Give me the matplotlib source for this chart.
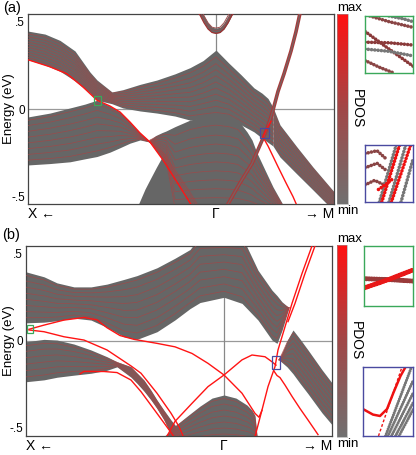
import numpy as np
import matplotlib
matplotlib.use("Agg")
import matplotlib.pyplot as plt
from matplotlib.colors import LinearSegmentedColormap, Normalize
from matplotlib.cm import ScalarMappable
from matplotlib.patches import Rectangle

plt.rcParams['font.family'] = ['Liberation Sans', 'DejaVu Sans']

GRAY = '#666666'
SUB = '#a84444'
RED = '#ff1414'
GREEN = '#3aa85a'
BLUE = '#4a4aa0'

# ======================= Panel (a) =======================
A_XLIM = (-1.88, 1.18)
A_YLIM = (-0.54, 0.54)
A_KLABELS = ['X \u2190', '\u0393', '\u2192 M']

# upper mixed band (X-side ribbon + valence top)
a_up_k = [-1.88, -1.71, -1.56, -1.41, -1.26, -1.19, -1.04, -0.93, -0.76, -0.59, -0.41, -0.26, -0.13, 0.00, 0.13, 0.25, 0.38, 0.46, 0.52, 0.57]
a_up_top = [0.443, 0.426, 0.39, 0.33, 0.21, 0.165, 0.097, 0.11, 0.14, 0.165, 0.20, 0.235, 0.275, 0.335, 0.26, 0.195, 0.12, 0.09, 0.06, 0.01]
a_up_bot = [0.28, 0.25, 0.215, 0.16, 0.09, 0.05, 0.03, 0.006, -0.011, -0.023, -0.04, -0.063, -0.055, -0.05, -0.055, -0.09, -0.13, -0.165, -0.19, -0.21]

# ribbon towards M
a_rib_k = [0.57, 0.64, 0.81, 0.97, 1.18]
a_rib_top = [0.01, -0.09, -0.216, -0.33, -0.47]
a_rib_bot = [-0.21, -0.273, -0.37, -0.46, -0.58]

# lower band on X side
a_bl_k = [-1.88, -1.66, -1.46, -1.31, -1.19, -1.06, -0.96, -0.86, -0.76, -0.66]
a_bl_top = [-0.045, -0.023, 0.006, 0.028, 0.05, 0.017, -0.017, -0.074, -0.136, -0.188]
a_bl_bot = [-0.318, -0.31, -0.30, -0.283, -0.27, -0.245, -0.22, -0.194, -0.176, -0.188]

# descending ribbon continuation
a_ad_k = [-0.66, -0.53, -0.36, -0.26, -0.19]
a_ad_top = [-0.188, -0.24, -0.38, -0.465, -0.53]
a_ad_bot = [-0.188, -0.29, -0.443, -0.534, -0.60]

# lower-left continuum piece
a_l1_k = [-0.79, -0.71, -0.66, -0.60, -0.54, -0.46, -0.36]
a_l1_top = [-0.56, -0.455, -0.40, -0.335, -0.273, -0.20, -0.15]
a_l1_bot = [-0.60, -0.60, -0.60, -0.60, -0.60, -0.60, -0.60]

# lower central band
a_l2_k = [-0.66, -0.60, -0.54, -0.50, -0.41, -0.26, -0.13, 0.00, 0.13, 0.22, 0.31, 0.36, 0.41, 0.49, 0.57, 0.66, 0.69]
a_l2_top = [-0.175, -0.15, -0.134, -0.125, -0.10, -0.063, -0.045, -0.035, -0.045, -0.063, -0.13, -0.176, -0.25, -0.347, -0.443, -0.534, -0.60]
a_l2_bot = [-0.188, -0.23, -0.273, -0.31, -0.60, -0.60, -0.60, -0.60, -0.60, -0.60, -0.60, -0.60, -0.60, -0.60, -0.60, -0.60, -0.60]

# conduction band at Gamma
a_cb_k = [-0.20, -0.16, -0.12, -0.08, -0.04, 0.00, 0.04, 0.08, 0.12, 0.16, 0.20]
a_cb_out = [0.56, 0.534, 0.49, 0.455, 0.435, 0.43, 0.435, 0.455, 0.49, 0.534, 0.56]
a_cb_in = [0.60, 0.58, 0.53, 0.49, 0.465, 0.46, 0.465, 0.49, 0.53, 0.58, 0.60]

# surface states
a_srf_k = [-1.88, -1.66, -1.49, -1.33, -1.19, -1.06, -0.96, -0.86, -0.76, -0.66, -0.53, -0.36, -0.26, -0.19]
a_srf_E = [0.28, 0.24, 0.20, 0.125, 0.05, 0.017, -0.017, -0.074, -0.136, -0.188, -0.29, -0.443, -0.534, -0.60]
a_dir_k = [0.12, 0.24, 0.36, 0.49, 0.54, 0.57, 0.62, 0.68, 0.75, 0.80, 0.84, 0.86]
a_dir_E = [-0.54, -0.42, -0.31, -0.14, -0.063, -0.006, 0.10, 0.20, 0.33, 0.44, 0.545, 0.60]
a_spl_k = [0.55, 0.50, 0.47, 0.52, 0.62, 0.70, 0.77, 0.81]
a_spl_E = [-0.07, -0.12, -0.16, -0.21, -0.328, -0.42, -0.498, -0.55]

A_GREEN_BOX = (-1.22, 0.023, 0.07, 0.051)
A_BLUE_BOX = (0.44, -0.165, 0.09, 0.057)

# ======================= Panel (b) =======================
B_XLIM = (-1.983, 1.083)
B_YLIM = (-0.548, 0.547)

b_ub_k = [-1.983, -1.80, -1.67, -1.50, -1.33, -1.17, -1.00, -0.87, -0.67, -0.49, -0.34, -0.24, 0.00, 0.18, 0.34, 0.48, 0.53, 0.58, 0.65]
b_ub_top = [0.397, 0.368, 0.333, 0.31, 0.31, 0.326, 0.353, 0.375, 0.42, 0.475, 0.525, 0.60, 0.60, 0.60, 0.406, 0.291, 0.26, 0.224, 0.19]
b_ub_bot = [0.103, 0.107, 0.115, 0.13, 0.119, 0.077, 0.023, 0.008, 0.052, 0.12, 0.185, 0.22, 0.25, 0.215, 0.119, 0.004, -0.015, 0.06, 0.19]

b_vb_k = [-1.983, -1.80, -1.67, -1.50, -1.33, -1.17, -1.07, -1.00, -0.93, -0.87, -0.80, -0.73, -0.67, -0.60, -0.53, -0.45, -0.38]
b_vb_top = [-0.006, 0.008, 0.004, -0.019, -0.053, -0.092, -0.121, -0.135, -0.149, -0.185, -0.226, -0.285, -0.341, -0.40, -0.456, -0.513, -0.60]
b_vb_bot = [-0.236, -0.225, -0.21, -0.198, -0.187, -0.17, -0.15, -0.18, -0.21, -0.245, -0.29, -0.341, -0.39, -0.456, -0.54, -0.60, -0.60]

b_lb_k = [-0.64, -0.59, -0.49, -0.36, -0.24, -0.12, 0.00, 0.12, 0.23, 0.28, 0.31, 0.34]
b_lb_top = [-0.60, -0.55, -0.49, -0.43, -0.376, -0.33, -0.312, -0.33, -0.37, -0.40, -0.43, -0.60]
b_lb_bot = [-0.60, -0.60, -0.60, -0.60, -0.60, -0.60, -0.60, -0.60, -0.60, -0.60, -0.60, -0.60]

b_rb_k = [0.55, 0.58, 0.63, 0.69, 0.76, 0.84, 0.98, 1.09]
b_rb_top = [-0.11, -0.07, 0.0, 0.062, 0.01, -0.053, -0.167, -0.25]
b_rb_bot = [-0.11, -0.125, -0.15, -0.19, -0.245, -0.305, -0.415, -0.49]

# surface / edge states
b_s1_k = [-1.95, -1.80, -1.60, -1.40, -1.27, -1.17, -1.04, -0.90, -0.67, -0.49, -0.32, -0.16, 0.00, 0.18, 0.31, 0.35, 0.38]
b_s1_E = [0.066, 0.09, 0.119, 0.134, 0.12, 0.075, 0.03, 0.008, -0.015, -0.035, -0.073, -0.13, -0.197, -0.302, -0.418, -0.44, -0.40]
b_s2_k = [-1.95, -1.80, -1.60, -1.40, -1.17, -0.93, -0.83, -0.67, -0.53, -0.45, -0.40]
b_s2_E = [0.062, 0.052, 0.023, 0.004, -0.053, -0.145, -0.187, -0.302, -0.417, -0.494, -0.56]
b_s3_k = [-1.44, -1.40, -1.20, -1.07, -0.93, -0.83, -0.67, -0.53, -0.48]
b_s3_E = [-0.19, -0.177, -0.177, -0.183, -0.226, -0.293, -0.418, -0.528, -0.57]
b_s4_k = [-0.58, -0.49, -0.32, -0.16, 0.00, 0.18, 0.28, 0.41, 0.48, 0.52]
b_s4_E = [-0.56, -0.464, -0.36, -0.264, -0.197, -0.11, -0.082, -0.092, -0.121, -0.14]
b_s5_k = [0.50, 0.53, 0.56, 0.61, 0.68, 0.76, 0.84, 0.94]
b_s5_E = [-0.175, -0.20, -0.212, -0.255, -0.32, -0.39, -0.456, -0.54]
b_dir_k = [0.31, 0.38, 0.44, 0.51, 0.54, 0.61, 0.68, 0.78, 0.88, 0.91]
b_dir_E = [-0.552, -0.398, -0.264, -0.149, -0.053, 0.08, 0.215, 0.387, 0.546, 0.60]
b_dir2_k = [0.64, 0.71, 0.81, 0.91, 0.94]
b_dir2_E = [0.11, 0.215, 0.387, 0.546, 0.60]

B_GREEN_BOX = (-1.97, 0.044, 0.06, 0.046)
B_BLUE_BOX = (0.48, -0.162, 0.08, 0.074)

# sub-band fractions inside each continuum
FR10 = [0.08, 0.17, 0.26, 0.35, 0.44, 0.53, 0.62, 0.71, 0.80, 0.90]
FR8 = [0.1, 0.22, 0.34, 0.46, 0.58, 0.70, 0.82, 0.93]
FR6 = [0.12, 0.28, 0.44, 0.60, 0.76, 0.90]
FR4 = [0.2, 0.45, 0.7, 0.9]

# inset curves (local 0..1 coordinates)
ia_g = [
    ([0.1, 0.5, 1.0], [1.0, 0.90, 0.80], '#8a4545'),
    ([0.5, 0.8, 1.0], [1.0, 0.95, 0.90], '#777777'),
    ([0.0, 0.45, 1.0], [0.73, 0.45, 0.12], '#8a3a3a'),
    ([0.0, 0.5, 1.0], [0.54, 0.53, 0.49], '#8a3a3a'),
    ([0.0, 0.5, 1.0], [0.42, 0.38, 0.30], '#777777'),
    ([0.0, 0.3, 0.6], [0.22, 0.10, 0.0], '#8a4545'),
]
ia_b = [
    ([0.0, 0.25, 0.45], [0.85, 0.90, 0.75], '#8a4545'),
    ([0.0, 0.25, 0.45], [0.60, 0.68, 0.55], '#8a4545'),
    ([0.0, 0.2, 0.4], [0.30, 0.38, 0.30], '#8a4545'),
    ([0.30, 0.65], [0.0, 1.0], '#777777'),
    ([0.50, 0.85], [0.0, 1.0], '#777777'),
    ([0.75, 1.0], [0.0, 0.75], '#777777'),
    ([0.35, 0.72], [0.0, 1.0], '#ee1111'),
    ([0.55, 0.95], [0.0, 1.0], '#ee1111'),
    ([0.28, 0.45, 0.6], [0.22, 0.32, 0.42], '#ee1111'),
]
ib_g = [
    ([0.0, 0.5, 1.0], [0.455, 0.44, 0.415], '#9a3a3a'),
    ([0.0, 0.5, 1.0], [0.30, 0.44, 0.60], '#e81818'),
]
ib_b_solid = ([0.0, 0.2, 0.34, 0.48, 0.61, 0.75, 0.85], [0.39, 0.31, 0.29, 0.39, 0.63, 0.87, 1.0])
ib_b_dash = ([0.31, 0.78], [0.0, 1.0])
ib_b_gray = [
    ([0.45, 0.97], [0.0, 1.0]),
    ([0.50, 1.0], [0.0, 0.80]),
    ([0.57, 1.0], [0.0, 0.62]),
    ([0.65, 1.0], [0.0, 0.48]),
    ([0.72, 1.0], [0.0, 0.38]),
]

# ======================= drawing =======================
fig = plt.figure(figsize=(4.16, 4.55), dpi=100)
cmap = LinearSegmentedColormap.from_list('pdos', ['#707070', '#a04848', '#ff1010'])


def band(ax, k, top, bot, fracs):
    k = np.asarray(k); t = np.asarray(top); b = np.asarray(bot)
    ax.fill_between(k, b, t, color=GRAY, lw=0, zorder=2)
    for f in fracs:
        ax.plot(k, b + f * (t - b), color=SUB, lw=0.5, alpha=0.8, zorder=3)


def style_main(ax, xlim, ylim, label_x):
    ax.set_xlim(*xlim)
    ax.set_ylim(*ylim)
    ax.axhline(0, color='#999999', lw=0.9, zorder=1)
    ax.axvline(0, color='#888888', lw=0.9, zorder=1)
    ax.set_yticks([-0.5, 0, 0.5])
    ax.set_yticklabels(['-.5', '0', '.5'], fontsize=8.5)
    ax.set_xticks([xlim[0], 0, xlim[1]])
    labs = ax.set_xticklabels(A_KLABELS, fontsize=10)
    labs[0].set_ha('left'); labs[2].set_ha('right')
    ax.tick_params(length=0, pad=2)
    ax.set_ylabel('Energy (eV)', fontsize=9.5)
    ax.yaxis.set_label_coords(label_x, 0.5)
    for s in ax.spines.values():
        s.set_color('#444444'); s.set_linewidth(0.9)


def colorbar(rect):
    cax = fig.add_axes(rect)
    cb = fig.colorbar(ScalarMappable(Normalize(0, 1), cmap), cax=cax)
    cb.set_ticks([])
    cb.outline.set_linewidth(0.4)
    cb.outline.set_edgecolor('#999999')
    cax.text(0.0, 1.0, 'max', transform=cax.transAxes, ha='left', va='bottom', fontsize=9.5)
    cax.text(0.0, -0.005, 'min', transform=cax.transAxes, ha='left', va='top', fontsize=9.5)
    cax.text(1.15, 0.5, 'PDOS', transform=cax.transAxes, ha='left', va='center', rotation=270, fontsize=10)


def inset(rect, color):
    ia = fig.add_axes(rect)
    ia.set_xlim(0, 1); ia.set_ylim(0, 1)
    ia.set_xticks([]); ia.set_yticks([])
    for s in ia.spines.values():
        s.set_color(color); s.set_linewidth(1.0)
    return ia


def dots(ia, x, y, c, lw=2.6, gap=0.9):
    ia.plot(x, y, color=c, lw=lw, ls=(0, (0.01, gap)), dash_capstyle='round')


# ---- panel (a)
axa = fig.add_axes([0.0673, 0.5516, 0.7356, 0.4176])
band(axa, a_bl_k, a_bl_top, a_bl_bot, FR8)
band(axa, a_l1_k, a_l1_top, a_l1_bot, [])
band(axa, a_l2_k, a_l2_top, a_l2_bot, FR10)
band(axa, a_ad_k, a_ad_top, a_ad_bot, FR4)
band(axa, a_up_k, a_up_top, a_up_bot, FR10)
band(axa, a_rib_k, a_rib_top, a_rib_bot, FR8)
band(axa, a_cb_k, a_cb_in, a_cb_out, [0.5])
axa.plot(a_cb_k, a_cb_out, color='#a03030', lw=0.9, zorder=3)
axa.plot(a_cb_k, a_cb_in, color='#a05050', lw=0.7, zorder=3)
axa.plot(a_srf_k, a_srf_E, color=RED, lw=1.0, zorder=4)
axa.plot(a_dir_k, a_dir_E, color='#a83a3a', lw=2.6, zorder=4)
axa.plot(a_dir_k, a_dir_E, color='#7a6060', lw=1.0, zorder=4)
axa.plot(a_spl_k, a_spl_E, color=RED, lw=1.0, zorder=4)
axa.add_patch(Rectangle(A_GREEN_BOX[:2], *A_GREEN_BOX[2:], fill=False, ec=GREEN, lw=0.9, zorder=5))
axa.add_patch(Rectangle(A_BLUE_BOX[:2], *A_BLUE_BOX[2:], fill=False, ec=BLUE, lw=0.9, zorder=5))
style_main(axa, A_XLIM, A_YLIM, -0.042)
fig.text(0.007, 0.998, '(a)', fontsize=10.5, va='top', ha='left')
colorbar([0.8101, 0.5516, 0.0264, 0.4176])

ia = inset([0.8774, 0.8396, 0.1154, 0.1253], GREEN)
for x, y, c in ia_g:
    dots(ia, x, y, c)
ia = inset([0.8774, 0.556, 0.1154, 0.1253], BLUE)
for x, y, c in ia_b:
    dots(ia, x, y, c)

# ---- panel (b)
axb = fig.add_axes([0.0618, 0.0418, 0.737, 0.4182])
band(axb, b_ub_k, b_ub_top, b_ub_bot, FR8)
band(axb, b_vb_k, b_vb_top, b_vb_bot, FR6)
band(axb, b_lb_k, b_lb_top, b_lb_bot, FR8)
band(axb, b_rb_k, b_rb_top, b_rb_bot, FR8)
for k, E in [(b_s1_k, b_s1_E), (b_s2_k, b_s2_E), (b_s3_k, b_s3_E), (b_s4_k, b_s4_E),
             (b_s5_k, b_s5_E), (b_dir_k, b_dir_E), (b_dir2_k, b_dir2_E)]:
    axb.plot(k, E, color=RED, lw=1.0, zorder=4)
axb.add_patch(Rectangle(B_GREEN_BOX[:2], *B_GREEN_BOX[2:], fill=False, ec=GREEN, lw=0.9, zorder=5))
axb.add_patch(Rectangle(B_BLUE_BOX[:2], *B_BLUE_BOX[2:], fill=False, ec=BLUE, lw=0.9, zorder=5))
style_main(axb, B_XLIM, B_YLIM, -0.036)
fig.text(0.005, 0.500, '(b)', fontsize=10.5, va='top', ha='left')
colorbar([0.8101, 0.0396, 0.024, 0.4220])

ib = inset([0.875, 0.3275, 0.1178, 0.1319], GREEN)
for x, y, c in ib_g:
    dots(ib, x, y, c, lw=3.6, gap=0.5)
ib = inset([0.8726, 0.0418, 0.1202, 0.1516], BLUE)
for x, y in ib_b_gray:
    dots(ib, x, y, '#777777', lw=2.2, gap=0.8)
ib.plot(*ib_b_solid, color='#ee1111', lw=1.8)
ib.plot(*ib_b_dash, color='#ee1111', lw=1.0, ls=(0, (2, 1.5)))

fig.savefig('out.png', dpi=100)
